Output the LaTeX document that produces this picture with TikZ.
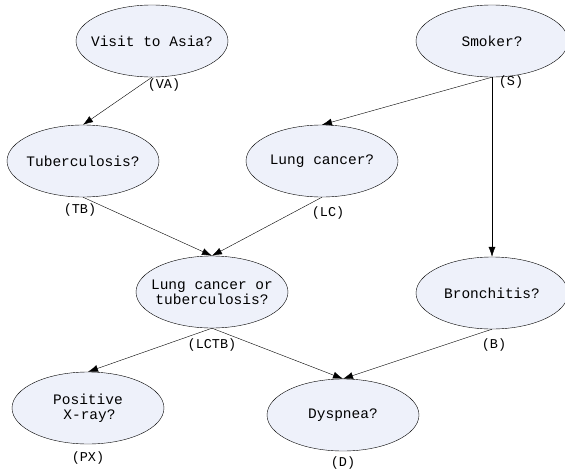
\documentclass[tikz,border=0pt]{standalone}
\usepackage{fontspec}
\setmonofont{Liberation Mono}
\usepackage{tikz}
\usetikzlibrary{arrows.meta,shapes.geometric}
\definecolor{nodefill}{RGB}{238,241,250}

\begin{document}
\begin{tikzpicture}[x=1pt,y=-1pt,
  var/.style={ellipse,draw,fill=nodefill,minimum width=152pt,minimum height=72pt,inner xsep=-10pt,inner ysep=0pt,align=center,font=\ttfamily\fontsize{14.5}{15}\selectfont},
  tag/.style={inner sep=0pt,font=\ttfamily\fontsize{13.5}{15}\selectfont},
  arc/.style={-{Latex[length=10pt,width=7pt]}}]
\useasboundingbox (0,0) rectangle (565,472);
\node[var] (VA) at (152,41) {Visit to Asia?};
\node[var] (S) at (492,41) {Smoker?};
\node[var] (TB) at (83,161) {Tuberculosis?};
\node[var] (LC) at (322,161) {Lung cancer?};
\node[var] (LCTB) at (212,292) {Lung cancer or\\tuberculosis?};
\node[var] (B) at (492,293) {Bronchitis?};
\node[var] (PX) at (88,408) {Positive\\\hspace{3pt}X-ray?};
\node[var] (D) at (343,415) {Dyspnea?};
% labels under the nodes
\node[tag] (tVA) at (164,85) {(VA)};
\node[tag] (tS) at (511,82) {(S)};
\node[tag] (tTB) at (80,210) {(TB)};
\node[tag] (tLC) at (328,213) {(LC)};
\node[tag] (tLCTB) at (212,345) {(LCTB)};
\node[tag] (tB) at (494,345) {(B)};
\node[tag] (tPX) at (88,458) {(PX)};
\node[tag] (tD) at (343,463) {(D)};
\draw[arc] (VA.south) -- (TB.north);
\draw[arc] (S.south) -- (LC.north);
\draw[arc] (S.south) -- (B.north);
\draw[arc] (TB.south) -- (LCTB.north);
\draw[arc] (LC.south) -- (LCTB.north);
\draw[arc] (LCTB.south) -- (PX.north);
\draw[arc] (LCTB.south) -- (D.north);
\draw[arc] (B.south) -- (D.north);
\end{tikzpicture}
\end{document}
